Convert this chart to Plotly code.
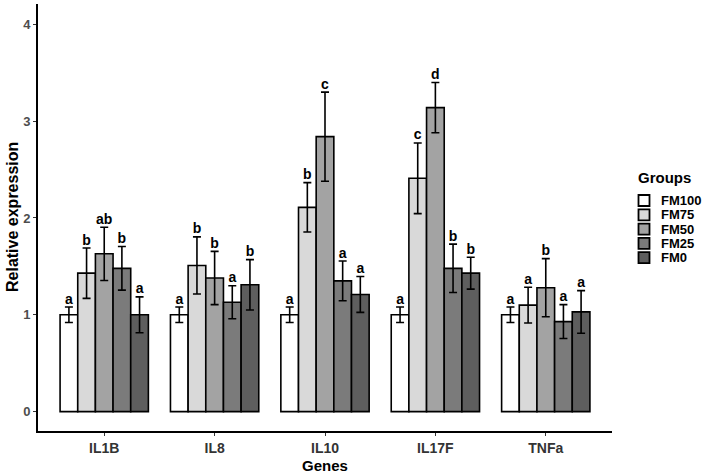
import plotly.graph_objects as go

genes = ["IL1B", "IL8", "IL10", "IL17F", "TNFa"]
groups = ["FM100", "FM75", "FM50", "FM25", "FM0"]

fm100 = [1.00, 1.00, 1.00, 1.00, 1.00]
fm75 = [1.43, 1.51, 2.11, 2.41, 1.10]
fm50 = [1.63, 1.38, 2.84, 3.14, 1.28]
fm25 = [1.48, 1.13, 1.35, 1.48, 0.93]
fm0 = [1.00, 1.31, 1.21, 1.43, 1.03]

err100 = [0.08, 0.08, 0.08, 0.08, 0.08]
err75 = [0.26, 0.295, 0.255, 0.365, 0.185]
err50 = [0.275, 0.275, 0.46, 0.26, 0.30]
err25 = [0.225, 0.17, 0.205, 0.25, 0.175]
err0 = [0.185, 0.26, 0.185, 0.165, 0.22]

let100 = ["a", "a", "a", "a", "a"]
let75 = ["b", "b", "b", "c", "a"]
let50 = ["ab", "b", "c", "d", "b"]
let25 = ["b", "a", "a", "b", "a"]
let0 = ["a", "b", "a", "b", "a"]

means = [fm100, fm75, fm50, fm25, fm0]
errs = [err100, err75, err50, err25, err0]
letters = [let100, let75, let50, let25, let0]
colors = ["#ffffff", "#d9d9d9", "#a3a3a3", "#7b7b7b", "#5e5e5e"]

FONT = "Liberation Sans"
W, H = 708, 474
ML, MR, MT, MB = 38, 96, 4, 43
PW, PH = W - ML - MR, H - MT - MB


def px(xp):
    return (xp - ML) / PW


def py(yp):
    return (H - MB - yp) / PH


fig = go.Figure()
for g, m, e, c in zip(groups, means, errs, colors):
    fig.add_trace(go.Bar(
        x=genes, y=m, name=g, marker=dict(color=c, line=dict(color="black", width=1.6)),
        error_y=dict(type="data", array=e, visible=True, color="black", thickness=1.6, width=4),
        offsetgroup=g, showlegend=False,
    ))
for g, m, e, l in zip(groups, means, errs, letters):
    fig.add_trace(go.Scatter(
        x=genes, y=[a + b for a, b in zip(m, e)], mode="text", text=l,
        textposition="top center", showlegend=False, offsetgroup=g, hoverinfo="skip",
        textfont=dict(family=FONT, size=14, color="black", weight="bold"),
    ))

# legend drawn manually (ggplot-style compact keys)
shapes = []
annotations = [
    dict(
        xref="paper", yref="paper", x=px(636), y=py(177), xanchor="left", yanchor="middle",
        text="<b>Groups</b>", showarrow=False, font=dict(family=FONT, size=15, color="black"),
    ),
    dict(
        xref="paper", yref="paper", x=px(12), y=py(217), xanchor="center", yanchor="middle",
        text="<b>Relative expression</b>", textangle=-90, showarrow=False,
        font=dict(family=FONT, size=16, color="black"),
    ),
]
for i, (g, c) in enumerate(zip(groups, colors)):
    cy = 200.5 + i * 14.3
    shapes.append(dict(
        type="rect", xref="paper", yref="paper",
        x0=px(638.5), x1=px(649.5), y0=py(cy - 5.5), y1=py(cy + 5.5),
        fillcolor=c, line=dict(color="black", width=1.8),
    ))
    annotations.append(dict(
        xref="paper", yref="paper", x=px(659), y=py(cy), xanchor="left", yanchor="middle",
        text="<b>%s</b>" % g, showarrow=False, font=dict(family=FONT, size=13, color="black"),
    ))

fig.update_layout(
    width=W, height=H,
    margin=dict(l=ML, r=MR, t=MT, b=MB),
    plot_bgcolor="white", paper_bgcolor="white",
    barmode="group", bargap=0.2, bargroupgap=0,
    scattermode="group", scattergap=0.2,
    font=dict(family=FONT, color="black"),
    showlegend=False,
    shapes=shapes, annotations=annotations,
    xaxis=dict(
        range=[-0.6, 4.6], showline=True, linecolor="black", linewidth=1.6,
        ticks="outside", ticklen=3, tickcolor="#333333", tickwidth=1,
        tickfont=dict(family=FONT, size=14, color="#333333", weight="bold"),
        title=dict(text="<b>Genes</b>", font=dict(family=FONT, size=15, color="black")),
        showgrid=False, zeroline=False, automargin=False,
    ),
    yaxis=dict(
        range=[-0.2, 4.21], showline=True, linecolor="black", linewidth=1.6,
        ticks="outside", ticklen=3, tickcolor="#333333", tickwidth=1,
        tickvals=[0, 1, 2, 3, 4],
        tickfont=dict(family=FONT, size=13, color="#4d4d4d", weight="bold"),
        showgrid=False, zeroline=False, automargin=False,
    ),
)

fig.write_html(
    "out.html",
    config={"displayModeBar": False},
    post_script="document.body.style.margin='0px';document.body.style.overflow='hidden';",
)
